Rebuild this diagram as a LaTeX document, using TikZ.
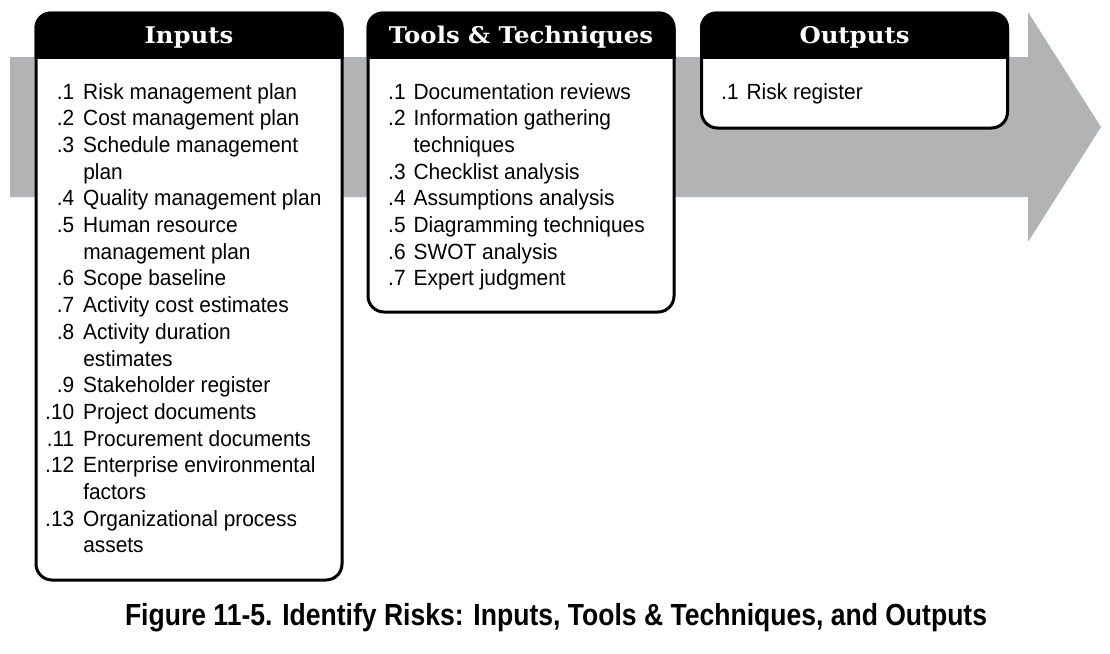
\documentclass[tikz,border=0pt]{standalone}
\usepackage{fontspec}
\setmainfont{Liberation Sans}[FakeStretch=0.95]
\newfontfamily\headfont{DejaVu Serif}[FakeStretch=1.06]
\newfontfamily\capfont{Liberation Sans}[FakeStretch=0.87]
\definecolor{bandgray}{RGB}{178,179,181}
\begin{document}
\begin{tikzpicture}[x=1pt,y=-1pt,
  panel/.style={draw=black, line width=3pt, fill=white, rounded corners=16pt,
    inner sep=0pt, anchor=north west, minimum width=306pt},
  headlabel/.style={text=white, inner sep=0pt, anchor=base,
    font=\headfont\bfseries\fontsize{23}{26}\selectfont},
  itemlist/.style={inner sep=0pt, anchor=base west,
    font=\fontsize{22}{26.7}\selectfont},
  caption/.style={inner sep=0pt, anchor=base,
    font=\capfont\bfseries\fontsize{30.5}{36}\selectfont}]
\useasboundingbox (0,0) rectangle (1110,653);

% process arrow behind the panels
\fill[bandgray] (10,57) -- (1028,57) -- (1028,12) -- (1101,127)
  -- (1028,242) -- (1028,197) -- (10,197) -- cycle;

% panels
\node[panel, minimum height=567pt] (in)  at (34.5,11.5) {};
\node[panel, minimum height=299pt] (tt)  at (366.5,11.5) {};
\node[panel, minimum height=115pt] (out) at (700,11.5) {};

% black header strips
\begin{scope}
  \clip (0,0) rectangle (1110,58);
  \foreach \p in {in,tt,out}
    \fill[black, rounded corners=16pt] (\p.north west) rectangle (\p.south east);
\end{scope}

\node[headlabel] (inhead)  at (in.north  |- 0,43) {Inputs};
\node[headlabel] (tthead)  at (tt.north  |- 0,43) {Tools \& Techniques};
\node[headlabel] (outhead) at (out.north |- 0,43) {Outputs};

% item lists
\node[itemlist] (inlist) at (45,99) {\begin{tabular}[t]{@{}r@{\hspace{9pt}}l@{}}
.1 & Risk management plan\\
.2 & Cost management plan\\
.3 & Schedule management\\
   & plan\\
.4 & Quality management plan\\
.5 & Human resource\\
   & management plan\\
.6 & Scope baseline\\
.7 & Activity cost estimates\\
.8 & Activity duration\\
   & estimates\\
.9 & Stakeholder register\\
.10 & Project documents\\
.11 & Procurement documents\\
.12 & Enterprise environmental\\
    & factors\\
.13 & Organizational process\\
    & assets
\end{tabular}};

\node[itemlist] (ttlist) at (388,99) {\begin{tabular}[t]{@{}r@{\hspace{8pt}}l@{}}
.1 & Documentation reviews\\
.2 & Information gathering\\
   & techniques\\
.3 & Checklist analysis\\
.4 & Assumptions analysis\\
.5 & Diagramming techniques\\
.6 & SWOT analysis\\
.7 & Expert judgment
\end{tabular}};

\node[itemlist] (outlist) at (721,99) {\begin{tabular}[t]{@{}r@{\hspace{8pt}}l@{}}
.1 & Risk register
\end{tabular}};

\node[caption] (cap) at (556,625) {Figure 11-5. Identify Risks: Inputs, Tools \& Techniques, and Outputs};
\end{tikzpicture}
\end{document}
